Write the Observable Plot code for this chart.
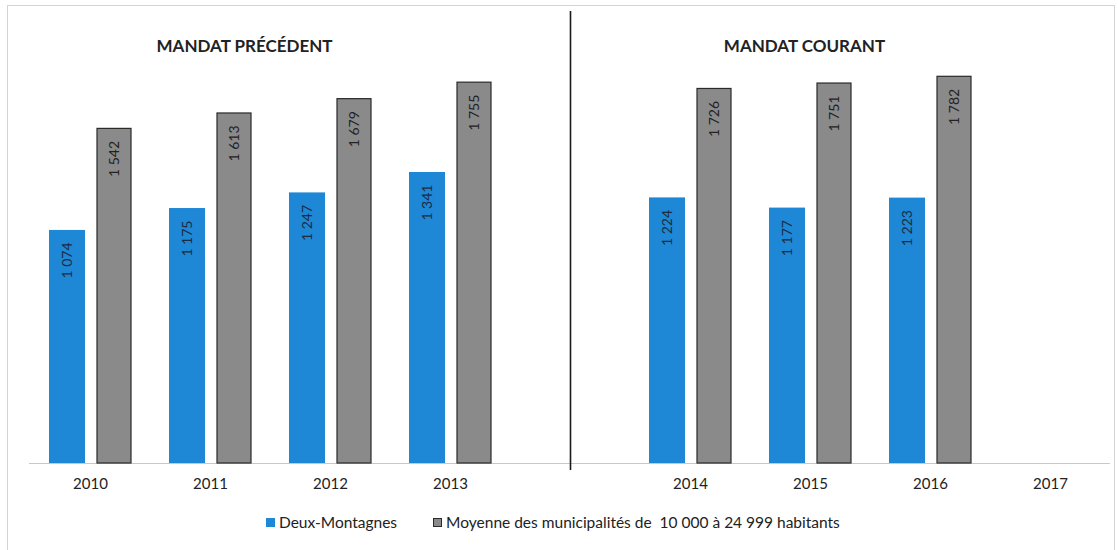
<!DOCTYPE html>
<html>
<head>
<meta charset="utf-8">
<script src="https://cdn.jsdelivr.net/npm/d3@7"></script>
<script src="https://cdn.jsdelivr.net/npm/@observablehq/plot@0.6"></script>
<style>
  html, body { margin: 0; padding: 0; background: #fff; }
  #wrap { position: relative; width: 1118px; height: 550px; overflow: hidden; font-family: Lato, "Open Sans", sans-serif; }
  #border { position: absolute; left: 7px; top: 5px; width: 1108px; height: 600px; border: 1px solid #d4d4d4; box-sizing: border-box; }
  #chart { position: absolute; left: 0; top: 0; }
  #legend { position: absolute; left: 266px; top: 513px; display: flex; align-items: center; font-size: 15.5px; color: #222; white-space: pre; }
  .sw { display: inline-block; width: 9px; height: 9px; margin-right: 4px; box-sizing: border-box; }
</style>
</head>
<body>
<div id="wrap">
  <div id="border"></div>
  <div id="chart"></div>
  <div id="legend"></div>
</div>
<script>
// ---- data ----
const GAP = "|";
const years = ["2010", "2011", "2012", "2013", "2014", "2015", "2016", "2017"];
const xDomain = ["2010", "2011", "2012", "2013", GAP, "2014", "2015", "2016", "2017"];
const seriesNames = ["Deux-Montagnes", "Moyenne des municipalités de  10 000 à 24 999 habitants"];
const deuxMontagnes = [1074, 1175, 1247, 1341, 1224, 1177, 1223, null];
const moyenne = [1542, 1613, 1679, 1755, 1726, 1751, 1782, null];
const panelTitles = ["MANDAT PRÉCÉDENT", "MANDAT COURANT"];
const panelAnchors = ["2011", "2015"];
const colors = ["#1e88d6", "#8a8a8a"];

// ---- derived table ----
const blueRows = years.map((y, i) => ({year: y, series: seriesNames[0], value: deuxMontagnes[i]})).filter(d => d.value != null);
const grayRows = years.map((y, i) => ({year: y, series: seriesNames[1], value: moyenne[i]})).filter(d => d.value != null);

const fr = d3.formatLocale({decimal: ",", thousands: "\u00a0", grouping: [3], currency: ["", " $"]});
const fmt = fr.format(",d");

const chart = Plot.plot({
  width: 1118,
  height: 503,
  marginTop: 29,
  marginBottom: 40,
  marginLeft: 29,
  marginRight: 8,
  x: {domain: xDomain, padding: 0, tickSize: 0, tickPadding: 15, tickFormat: d => d === GAP ? "" : d, label: null},
  y: {domain: [0, 2000], axis: null},
  style: {fontFamily: "Lato, 'Open Sans', sans-serif", fontSize: "15px", color: "#222", background: "transparent", overflow: "visible"},
  marks: [
    Plot.ruleY([0], {stroke: "#c8c8c8", strokeWidth: 1}),
    Plot.barY(blueRows, {x: "year", y: "value", fill: colors[0], insetLeft: 19, insetRight: 65}),
    Plot.barY(grayRows, {x: "year", y: "value", fill: colors[1], stroke: "#2a2a2a", strokeWidth: 1.2, insetLeft: 67, insetRight: 19}),
    Plot.text(blueRows, {x: "year", y: "value", text: d => fmt(d.value), rotate: -90, textAnchor: "end", dx: -23, dy: 12, fill: "#1c2c44", fontSize: 14}),
    Plot.text(grayRows, {x: "year", y: "value", text: d => fmt(d.value), rotate: -90, textAnchor: "end", dx: 24, dy: 12, fill: "#222", fontSize: 14}),
    Plot.ruleX([GAP], {stroke: "#1a1a1a", strokeWidth: 1.6, insetTop: -18, insetBottom: -7}),
    Plot.text([panelTitles[0]], {x: () => panelAnchors[0], frameAnchor: "top", dx: 34, dy: 10, text: d => d, fontSize: 17, fontWeight: 700, fill: "#222"}),
    Plot.text([panelTitles[1]], {x: () => panelAnchors[1], frameAnchor: "top", dx: -6, dy: 10, text: d => d, fontSize: 17, fontWeight: 700, fill: "#222"})
  ]
});
document.getElementById("chart").appendChild(chart);

// ---- legend ----
const legend = document.getElementById("legend");
seriesNames.forEach((name, i) => {
  const item = document.createElement("span");
  item.style.display = "inline-flex";
  item.style.alignItems = "center";
  item.style.marginRight = i === 0 ? "36px" : "0";
  const sw = document.createElement("span");
  sw.className = "sw";
  sw.style.background = colors[i];
  if (i === 1) sw.style.border = "1px solid #2a2a2a";
  const label = document.createElement("span");
  label.textContent = name;
  item.appendChild(sw);
  item.appendChild(label);
  legend.appendChild(item);
});
</script>
</body>
</html>
